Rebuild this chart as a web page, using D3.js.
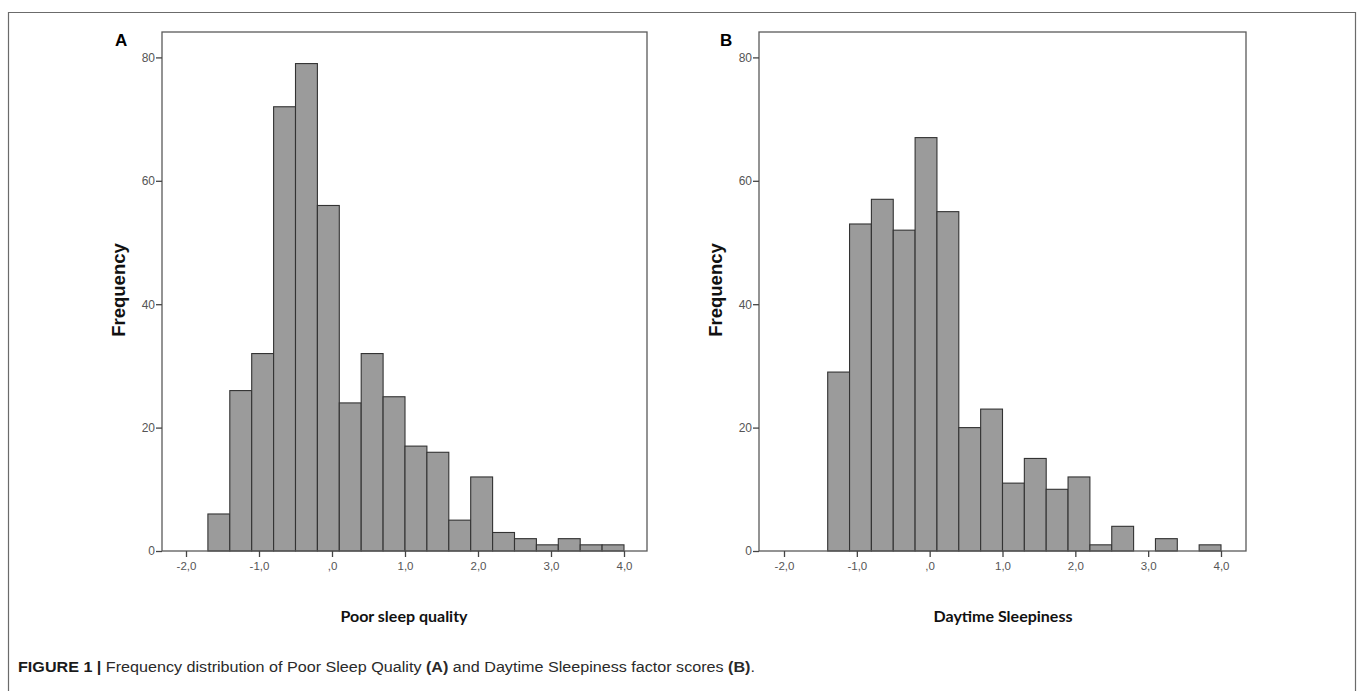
<!DOCTYPE html>
<html>
<head>
<meta charset="utf-8">
<script src="https://cdn.jsdelivr.net/npm/d3@7"></script>
<style>
  html, body { margin: 0; padding: 0; background: #fff; }
  svg { display: block; }
</style>
</head>
<body>
<svg id="chart" width="1357" height="691"></svg>
<script>
// ---- data ----
const edgesA = [-1.7,-1.4,-1.1,-0.8,-0.5,-0.2,0.1,0.4,0.7,1.0,1.3,1.6,1.9,2.2,2.5,2.8,3.1,3.4,3.7,4.0];
const countsA = [6,26,32,72,79,56,24,32,25,17,16,5,12,3,2,1,2,1,1];
const edgesB = [-1.4,-1.1,-0.8,-0.5,-0.2,0.1,0.4,0.7,1.0,1.3,1.6,1.9,2.2,2.5,2.8,3.1,3.4,3.7,4.0];
const countsB = [29,53,57,52,67,55,20,23,11,15,10,12,1,4,0,2,0,1];
const xTicks = [-2,-1,0,1,2,3,4];
const yTicks = [0,20,40,60,80];
const panelLetters = ["A","B"];
const xTitles = ["Poor sleep quality","Daytime Sleepiness"];
const yTitle = "Frequency";

const svg = d3.select("#chart");

// outer figure border
svg.append("path")
  .attr("d","M8.5,700 V12.5 H1355.5 V700")
  .attr("fill","none").attr("stroke","#6b6b6b").attr("stroke-width",1.2);

const panels = [
  {edges: edgesA, counts: countsA, frame:[162,647], xr:[186,624], letterX:115, yTitleX:125, titleX:404},
  {edges: edgesB, counts: countsB, frame:[759,1246], xr:[784,1221], letterX:720, yTitleX:722, titleX:1003}
];

const y = d3.scaleLinear().domain([0,80]).range([551,57.4]);
const frameTop = 32;

const fmt = v => v === 0 ? ",0" : d3.format(".1f")(v).replace(".", ",").replace("−","-");

panels.forEach((p, i) => {
  const x = d3.scaleLinear().domain([-2,4]).range(p.xr);
  const g = svg.append("g");

  // bars
  const bins = p.counts.map((c, k) => ({x0: p.edges[k], x1: p.edges[k+1], c}));
  g.selectAll("rect.bar").data(bins.filter(d => d.c > 0)).join("rect")
    .attr("class","bar")
    .attr("x", d => x(d.x0))
    .attr("width", d => x(d.x1) - x(d.x0))
    .attr("y", d => y(d.c))
    .attr("height", d => y(0) - y(d.c))
    .attr("fill","#9b9b9b")
    .attr("stroke","#333")
    .attr("stroke-width",1.1);

  // frame
  g.append("rect")
    .attr("x", p.frame[0]).attr("y", frameTop)
    .attr("width", p.frame[1]-p.frame[0]).attr("height", y(0)-frameTop)
    .attr("fill","none").attr("stroke","#5a5a5a").attr("stroke-width",1.3);

  // y axis
  const ya = g.append("g").attr("transform",`translate(${p.frame[0]},0)`)
    .call(d3.axisLeft(y).tickValues(yTicks).tickSize(6).tickPadding(1).tickFormat(d3.format("d")));
  ya.select(".domain").remove();
  ya.selectAll(".tick line").attr("stroke","#444").attr("stroke-width",1.3);
  ya.selectAll(".tick text").attr("fill","#555").attr("font-family","Liberation Sans, Arial, sans-serif").attr("font-size",12);

  // x axis
  const xa = g.append("g").attr("transform",`translate(0,${y(0)})`)
    .call(d3.axisBottom(x).tickValues(xTicks).tickSize(6).tickPadding(5).tickFormat(fmt));
  xa.select(".domain").remove();
  xa.selectAll(".tick line").attr("stroke","#444").attr("stroke-width",1.3);
  xa.selectAll(".tick text").attr("fill","#555").attr("font-family","Liberation Sans, Arial, sans-serif").attr("font-size",11.5);

  // panel letter
  svg.append("text").attr("x", p.letterX).attr("y", 46)
    .attr("font-family","Liberation Sans, Arial, sans-serif").attr("font-weight","bold")
    .attr("font-size",17).attr("fill","#000").text(panelLetters[i]);

  // y title
  svg.append("text")
    .attr("transform",`translate(${p.yTitleX},290) rotate(-90)`)
    .attr("text-anchor","middle")
    .attr("font-family","Liberation Sans, Arial, sans-serif").attr("font-weight","bold")
    .attr("font-size",18.5).attr("fill","#111").text(yTitle);

  // x title
  svg.append("text").attr("x", p.titleX).attr("y", 622)
    .attr("text-anchor","middle")
    .attr("font-family","Lato, Open Sans, sans-serif").attr("font-weight","bold")
    .attr("font-size",16).attr("fill","#111").text(xTitles[i]);
});

// caption
const cap = svg.append("text").attr("x", 18).attr("y", 672)
  .attr("textLength", 737).attr("lengthAdjust","spacingAndGlyphs")
  .attr("font-family","Liberation Sans, Arial, sans-serif").attr("font-size",15.5).attr("fill","#2a2a2a");
cap.append("tspan").attr("font-weight","bold").attr("fill","#1a1a1a").text("FIGURE 1 | ");
cap.append("tspan").text("Frequency distribution of Poor Sleep Quality ");
cap.append("tspan").attr("font-weight","bold").text("(A)");
cap.append("tspan").text(" and Daytime Sleepiness factor scores ");
cap.append("tspan").attr("font-weight","bold").text("(B)");
cap.append("tspan").text(".");
</script>
</body>
</html>
